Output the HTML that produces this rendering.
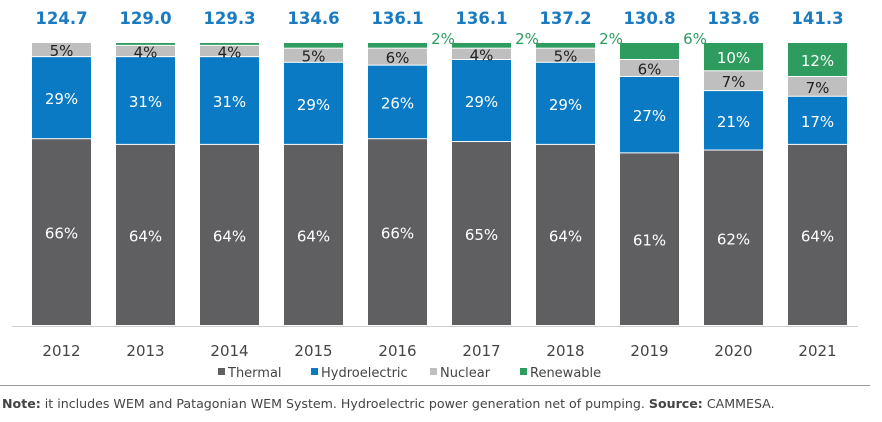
<!DOCTYPE html>
<html><head><meta charset="utf-8"><style>
body{margin:0;background:#fff;font-family:"DejaVu Sans","Liberation Sans",sans-serif;}
svg{display:block}
</style></head><body>
<svg id="c" width="882" height="422"></svg>
<script>
const years=["2012","2013","2014","2015","2016","2017","2018","2019","2020","2021"];
const totals=["124.7","129.0","129.3","134.6","136.1","136.1","137.2","130.8","133.6","141.3"];
const thermal=[66,64,64,64,66,65,64,61,62,64];
const hydro=[29,31,31,29,26,29,29,27,21,17];
const nuclear=[5,4,4,5,6,4,5,6,7,7];
const renewable=[0,1,1,2,2,2,2,6,10,12];
const renewLabels=["","","","","2%","2%","2%","6%","10%","12%"];
const NS="http://www.w3.org/2000/svg",svg=document.getElementById('c');
function el(t,a,p){const e=document.createElementNS(NS,t);for(const k in a)e.setAttribute(k,a[k]);(p||svg).appendChild(e);return e;}
const barTop=43,bot=326,H=bot-barTop,bw=59;
const xPos=i=>32+i*84;
const yScale=v=>v/100*H;
const series=[{n:"thermal",d:thermal,c:"#5f5f61",t:"#fff"},{n:"hydroelectric",d:hydro,c:"#0a7ac4",t:"#fff"},{n:"nuclear",d:nuclear,c:"#bfbfbf",t:"#222"},{n:"renewable",d:renewable,c:"#2e9b5f",t:"#fff"}];
years.forEach((y,i)=>{
  const x=xPos(i);
  const sum=thermal[i]+hydro[i]+nuclear[i]+renewable[i];
  let yb=bot;
  series.forEach(s=>{
    const v=s.d[i]*100/sum;if(v<=0)return;
    const h=yScale(v);
    const r=el('rect',{x:x,y:yb-h,width:bw,height:Math.max(h-1,0.5),fill:s.c});
    
    
    if(s.n==='renewable'){
      if(i>=8){const t=el('text',{x:x+bw/2,y:yb-h/2+6,'text-anchor':'middle','font-size':15,fill:'#fff'});t.textContent=renewLabels[i];}
      else if(renewLabels[i]){const t=el('text',{x:x+bw+16,y:barTop+1,'text-anchor':'middle','font-size':15,fill:'#2e9b5f'});t.textContent=renewLabels[i];}
    } else {
      const t=el('text',{x:x+bw/2,y:yb-h/2+6,'text-anchor':'middle','font-size':15,fill:s.t});
      t.textContent=s.d[i]+'%';
      
      
    }
    yb-=h;
  });
  const tt=el('text',{x:x+bw/2,y:24,'text-anchor':'middle','font-size':16.5,'font-weight':'bold',fill:'#1a7bc0'});
  tt.textContent=totals[i];
  
  
  const yl=el('text',{x:x+bw/2,y:356,'text-anchor':'middle','font-size':15,fill:'#444'});
  yl.textContent=y;
  
  
});
const ax=el('line',{x1:12,y1:326.5,x2:858,y2:326.5,stroke:'#d0d0d0','stroke-width':1});


const leg=[["Thermal","#5f5f61",218],["Hydroelectric","#0a7ac4",311],["Nuclear","#bfbfbf",430],["Renewable","#2e9b5f",520]];
leg.forEach(l=>{
  const g=el('g',{});
  
  
  el('rect',{x:l[2],y:368,width:7,height:7,fill:l[1]},g);
  const t=el('text',{x:l[2]+10,y:377,'font-size':13,fill:'#444'},g);t.textContent=l[0];
});
const fl=el('line',{x1:0,y1:385.5,x2:870,y2:385.5,stroke:'#999','stroke-width':1});


const ft=el('text',{x:2,y:408,'font-size':12.6,fill:'#444'});


ft.innerHTML='<tspan font-weight="bold">Note:</tspan> it includes WEM and Patagonian WEM System. Hydroelectric power generation net of pumping. <tspan font-weight="bold">Source:</tspan> CAMMESA.';
</script>
</body></html>
